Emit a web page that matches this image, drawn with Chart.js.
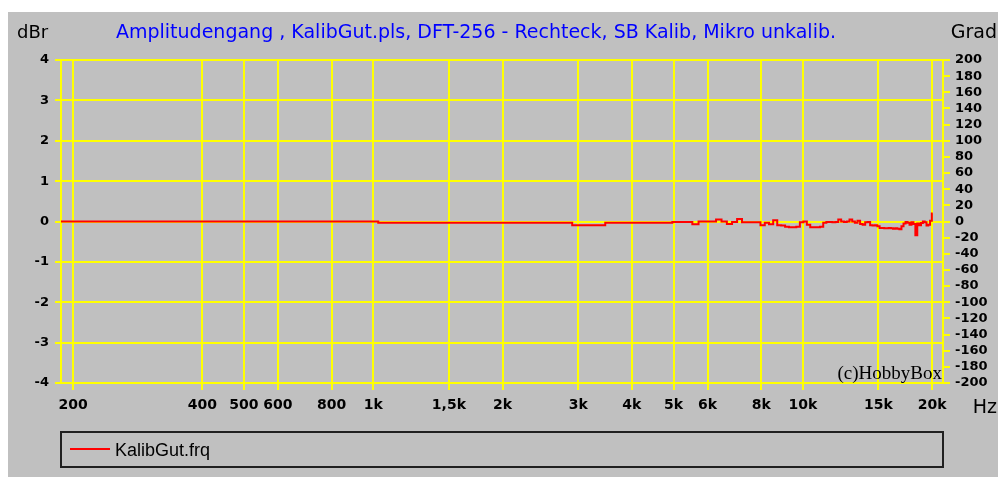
<!DOCTYPE html>
<html>
<head>
<meta charset="utf-8">
<title>Amplitudengang KalibGut</title>
<script src="https://cdn.jsdelivr.net/npm/chart.js@4.4.1/dist/chart.umd.min.js"></script>
<style>
  html, body { margin: 0; padding: 0; background: #ffffff; }
  canvas { display: block; }
</style>
</head>
<body>
<canvas id="plot" width="998" height="477"></canvas>
<script>
// DFT-256 bin frequencies (Hz) and the measured level of each bin (dBr)
const freqHz = [
  187.5, 375, 562.5, 750, 937.5, 1125, 1312.5, 1500, 1687.5, 1875,
  2062.5, 2250, 2437.5, 2625, 2812.5, 3000, 3187.5, 3375, 3562.5, 3750,
  3937.5, 4125, 4312.5, 4500, 4687.5, 4875, 5062.5, 5250, 5437.5, 5625,
  5812.5, 6000, 6187.5, 6375, 6562.5, 6750, 6937.5, 7125, 7312.5, 7500,
  7687.5, 7875, 8062.5, 8250, 8437.5, 8625, 8812.5, 9000, 9187.5, 9375,
  9562.5, 9750, 9937.5, 10125, 10312.5, 10500, 10687.5, 10875, 11062.5, 11250,
  11437.5, 11625, 11812.5, 12000, 12187.5, 12375, 12562.5, 12750, 12937.5, 13125,
  13312.5, 13500, 13687.5, 13875, 14062.5, 14250, 14437.5, 14625, 14812.5, 15000,
  15187.5, 15375, 15562.5, 15750, 15937.5, 16125, 16312.5, 16500, 16687.5, 16875,
  17062.5, 17250, 17437.5, 17625, 17812.5, 18000, 18187.5, 18375, 18562.5, 18750,
  18937.5, 19125, 19312.5, 19500, 19687.5, 19875, 20062.5
];
const levelDbr = [
  0, 0, 0, 0, 0, -0.03, -0.03, -0.03, -0.03, -0.03,
  -0.03, -0.03, -0.03, -0.03, -0.03, -0.09, -0.09, -0.09, -0.03, -0.03,
  -0.03, -0.03, -0.03, -0.03, -0.03, -0.03, -0.01, -0.01, -0.01, -0.07,
  0, 0, 0, 0.05, 0, -0.06, -0.01, 0.06, -0.02, -0.02,
  -0.02, -0.02, -0.09, -0.03, -0.07, 0.03, -0.09, -0.1, -0.13, -0.14,
  -0.14, -0.13, -0.02, 0, -0.08, -0.14, -0.14, -0.14, -0.13, -0.03,
  -0.01, -0.01, -0.02, -0.01, 0.05, 0, -0.01, 0, 0.05, 0,
  -0.03, 0.02, -0.06, -0.08, -0.02, -0.01, -0.09, -0.1, -0.09, -0.12,
  -0.16, -0.16, -0.17, -0.17, -0.16, -0.17, -0.18, -0.17, -0.18, -0.19,
  -0.12, -0.05, -0.01, -0.03, -0.08, -0.02, -0.06, -0.34, -0.05, -0.09,
  -0.04, 0, -0.02, -0.1, -0.08, 0.02, 0.2
];

// Frequency axis ticks and their printed labels
const xTickValues = [200, 400, 500, 600, 800, 1000, 1500, 2000, 3000, 4000, 5000, 6000, 8000, 10000, 15000, 20000];
const xTickLabels = ['200', '400', '500', '600', '800', '1k', '1,5k', '2k', '3k', '4k', '5k', '6k', '8k', '10k', '15k', '20k'];

const seriesName = 'KalibGut.frq';
const chartTitle = 'Amplitudengang , KalibGut.pls, DFT-256 - Rechteck, SB Kalib, Mikro unkalib.';

const GRID = '#ffff00';
const BG = '#c0c0c0';
const LINE = '#ff0000';

// Panel background with the thin white margin on top and left
const backdrop = {
  id: 'backdrop',
  beforeDraw(chart) {
    const ctx = chart.ctx;
    ctx.save();
    ctx.fillStyle = '#ffffff';
    ctx.fillRect(0, 0, chart.width, chart.height);
    ctx.fillStyle = BG;
    ctx.fillRect(8, 12, chart.width - 8, chart.height - 12);
    ctx.restore();
  }
};

// Heading, unit captions, copyright mark and the framed legend
const annotations = {
  id: 'annotations',
  afterDraw(chart) {
    const ctx = chart.ctx;
    const area = chart.chartArea;
    ctx.save();
    ctx.textBaseline = 'alphabetic';

    ctx.fillStyle = '#0000ff';
    ctx.font = '19px "DejaVu Sans"';
    ctx.textAlign = 'left';
    ctx.fillText(chartTitle, 116, 38);

    ctx.fillStyle = '#000000';
    ctx.font = '18px "DejaVu Sans"';
    ctx.fillText('dBr', 17, 38);
    ctx.font = '19px "DejaVu Sans"';
    ctx.textAlign = 'right';
    ctx.fillText('Grad', 997, 38);
    ctx.fillText('Hz', 997, 413);

    ctx.font = '19px "Liberation Serif"';
    ctx.fillText('(c)HobbyBox', area.right - 1, area.bottom - 4);

    // legend frame
    ctx.strokeStyle = '#202020';
    ctx.lineWidth = 2;
    ctx.strokeRect(61, 432, area.right - 61, 35);
    const ds = chart.data.datasets[0];
    ctx.strokeStyle = ds.borderColor;
    ctx.lineWidth = 2;
    ctx.beginPath();
    ctx.moveTo(70, 449);
    ctx.lineTo(110, 449);
    ctx.stroke();
    ctx.fillStyle = '#000000';
    ctx.textAlign = 'left';
    ctx.font = '18px "Liberation Sans"';
    ctx.fillText(ds.label, 115, 456);
    ctx.restore();
  }
};

const tickFontY = { family: 'DejaVu Sans', size: 13, weight: 'bold' };
const tickFontX = { family: 'DejaVu Sans', size: 14, weight: 'bold' };

new Chart(document.getElementById('plot'), {
  type: 'line',
  data: {
    datasets: [{
      label: seriesName,
      data: freqHz.map((f, i) => ({ x: f, y: levelDbr[i] })),
      borderColor: LINE,
      borderWidth: 2,
      pointRadius: 0,
      stepped: 'middle',
      fill: false,
      yAxisID: 'y'
    }]
  },
  options: {
    responsive: false,
    animation: false,
    events: [],
    layout: { padding: { top: 60, bottom: 54, left: 0, right: 0 } },
    plugins: { legend: { display: false }, title: { display: false }, tooltip: { enabled: false } },
    scales: {
      x: {
        type: 'logarithmic',
        min: 187.5,
        max: 21200,
        afterBuildTicks(scale) { scale.ticks = xTickValues.map(v => ({ value: v })); },
        afterFit(scale) { scale.height = 40; },
        grid: { color: GRID, lineWidth: 2, tickLength: 7, drawTicks: true },
        border: { color: GRID, width: 2 },
        ticks: {
          autoSkip: false, maxRotation: 0, minRotation: 0, padding: 7,
          color: '#000000', font: tickFontX,
          callback(value) { return xTickLabels[xTickValues.indexOf(value)]; }
        }
      },
      y: {
        position: 'left',
        min: -4, max: 4,
        afterFit(scale) { scale.width = 61; },
        grid: { color: GRID, lineWidth: 2, tickLength: 6 },
        border: { color: GRID, width: 2 },
        ticks: { stepSize: 1, autoSkip: false, padding: 6, color: '#000000', font: tickFontY }
      },
      yPhase: {
        position: 'right',
        min: -200, max: 200,
        afterFit(scale) { scale.width = 55; },
        grid: { color: GRID, lineWidth: 2, tickLength: 7, drawOnChartArea: false },
        border: { color: GRID, width: 2 },
        ticks: { stepSize: 20, autoSkip: false, padding: 5, color: '#000000', font: tickFontY }
      }
    }
  },
  plugins: [backdrop, annotations]
});
</script>
</body>
</html>
